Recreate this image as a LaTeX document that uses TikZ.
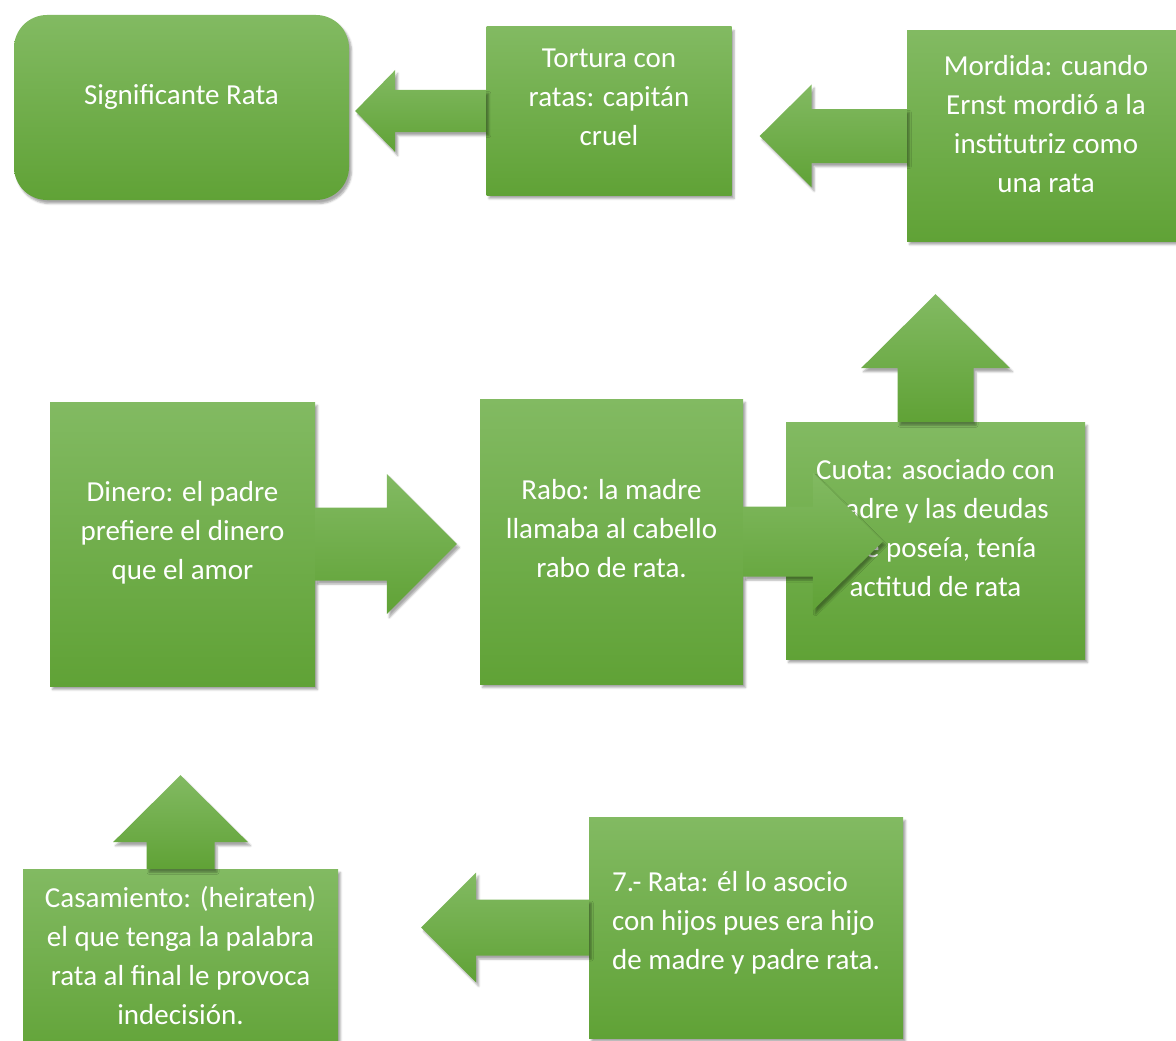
\documentclass[tikz,border=0pt]{standalone}
\usepackage{fontspec}
\setmainfont{Carlito}
\usetikzlibrary{calc, shadows.blur}

\definecolor{boxtop}{RGB}{130,186,98}
\definecolor{boxbot}{RGB}{96,162,54}

% block arrows: tail, tip, half shaft, half head, head length
\newcommand{\arrowH}[5]{%
  \path[blockarr] let \p1=(#1), \p2=(#2), \n1={sign(\x2-\x1)} in
    (\x1,{\y1+#3pt}) -- ({\x2-\n1*#5pt},{\y1+#3pt}) -- ({\x2-\n1*#5pt},{\y1+#4pt})
    -- (\x2,\y1) -- ({\x2-\n1*#5pt},{\y1-#4pt}) -- ({\x2-\n1*#5pt},{\y1-#3pt})
    -- (\x1,{\y1-#3pt}) -- cycle;}
\newcommand{\arrowV}[5]{%
  \path[blockarr] let \p1=(#1), \p2=(#2), \n1={sign(\y2-\y1)} in
    ({\x1+#3pt},\y1) -- ({\x1+#3pt},{\y2-\n1*#5pt}) -- ({\x1+#4pt},{\y2-\n1*#5pt})
    -- (\x1,\y2) -- ({\x1-#4pt},{\y2-\n1*#5pt}) -- ({\x1-#3pt},{\y2-\n1*#5pt})
    -- ({\x1-#3pt},\y1) -- cycle;}

\begin{document}
\begin{tikzpicture}[
    x=1pt, y=-1pt,
    shadowed/.style={
        blur shadow={shadow xshift=2.5pt, shadow yshift=-3.5pt,
        shadow blur radius=2pt, shadow opacity=35}
    },
    card/.style={
        rectangle, top color=boxtop, bottom color=boxbot, draw=none,
        shadowed, text=white, align=center, inner sep=0pt,
        font=\fontsize{29}{39}\selectfont, text depth=26pt
    },
    blockarr/.style={top color=boxtop, bottom color=boxbot, draw=none, shadowed},
]
\useasboundingbox (0,0) rectangle (1176,1041);

% Top row
\node[card, rounded corners=33pt, minimum width=335pt, minimum height=185pt, text depth=27pt]
    (sig) at (181.5,107.5) {Significante Rata};
\node[card, minimum width=245pt, minimum height=168pt, text depth=28pt]
    (tort) at (609,111) {Tortura con\\ratas: capitán\\cruel};
\node[card, minimum width=278pt, minimum height=210pt, text depth=25pt]
    (mord) at (1046,136) {Mordida: cuando\\Ernst mordió a la\\institutriz como\\una rata};

% Middle row
\node[card, minimum width=265pt, minimum height=284pt, text depth=28pt]
    (din) at (182.5,544) {Dinero: el padre\\prefiere el dinero\\que el amor};
\node[card, minimum width=263pt, minimum height=285pt]
    (rabo) at (611.5,541.5) {Rabo: la madre\\llamaba al cabello\\rabo de rata.};
\node[card, minimum width=299pt, minimum height=237pt]
    (cuota) at (935.5,540.5) {Cuota: asociado con\\madre y las deudas\\que poseía, tenía\\actitud de rata};

% Bottom row
\node[card, minimum width=315pt, minimum height=198pt]
    (casa) at (180.5,968) {Casamiento: (heiraten)\\el que tenga la palabra\\rata al final le provoca\\indecisión.};
\node[card, align=left, minimum width=314pt, minimum height=221pt, text depth=14pt]
    (rata) at (746,927.5) {7.- Rata: él lo asocio\\con hijos pues era hijo\\de madre y padre rata.};

% Arrow tips
\coordinate (sig_tip) at ($(sig.east)+(6,0)$);
\coordinate (tort_tip) at ($(tort.east)+(28,0)$);
\coordinate (mord_tip) at ($(mord.south)+(0,53)$);
\coordinate (rabo_tip) at ($(rabo.west)+(-23,0)$);
\coordinate (cuota_tip) at ($(cuota.west)+(97,0)$);
\coordinate (din_tip) at ($(din.south)+(0,89)$);
\coordinate (casa_tip) at ($(casa.east)+(83,0)$);

% Arrows
\arrowH{tort.west}{sig_tip}{21}{41}{40}
\arrowH{mord.west}{tort_tip}{27}{51.5}{52}
\arrowH{din.east}{rabo_tip}{36.5}{70}{70}
\arrowV{cuota.north}{mord_tip}{38}{74.5}{74}
\arrowH{rata.west}{casa_tip}{28}{55}{55}
\arrowV{casa.north}{din_tip}{34}{67.5}{67}
\arrowH{rabo.east}{cuota_tip}{35}{69}{70}

\end{tikzpicture}
\end{document}
